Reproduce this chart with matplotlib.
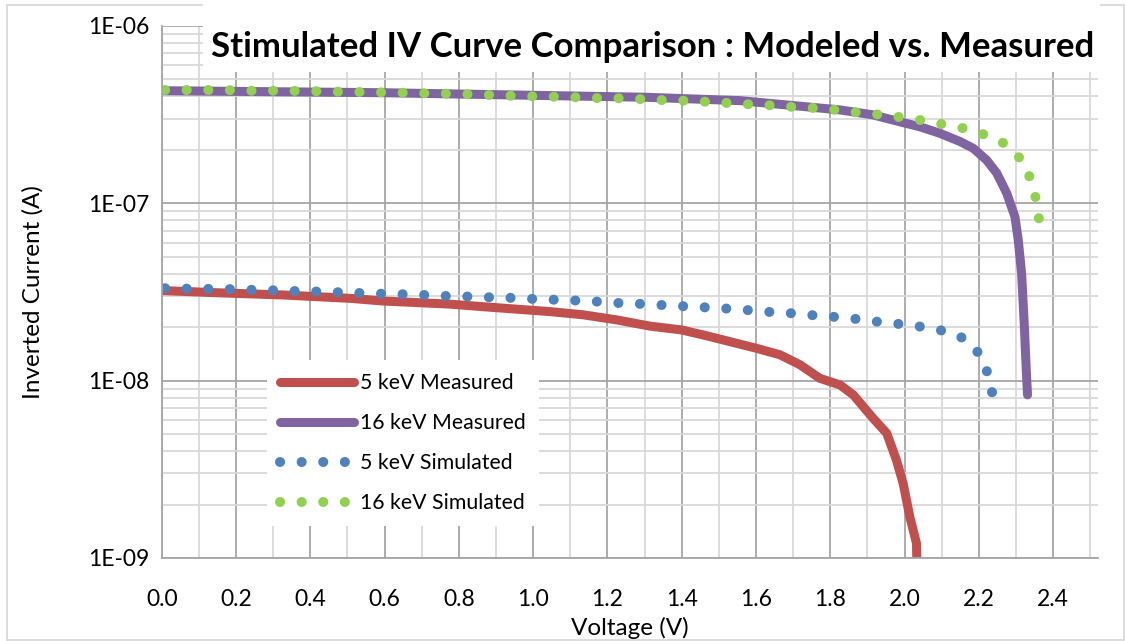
import numpy as np
import matplotlib.pyplot as plt
from matplotlib.ticker import MultipleLocator, LogLocator, FuncFormatter, NullFormatter
from matplotlib.patches import Rectangle

plt.rcParams['font.family'] = ['Lato', 'DejaVu Sans']

# 5 keV measured
v_5m = [0.000, 0.148, 0.327, 0.507, 0.597, 0.776, 0.866, 1.045, 1.135, 1.225, 1.314,
        1.400, 1.467, 1.602, 1.664, 1.718, 1.772, 1.826, 1.862, 1.915, 1.952, 1.978,
        1.996, 2.014, 2.032, 2.033]
i_5m = [3.22e-8, 3.13e-8, 3.04e-8, 2.91e-8, 2.81e-8, 2.70e-8, 2.61e-8, 2.45e-8, 2.35e-8,
        2.20e-8, 2.03e-8, 1.93e-8, 1.79e-8, 1.52e-8, 1.40e-8, 1.23e-8, 1.03e-8, 9.46e-9,
        8.31e-9, 6.14e-9, 5.05e-9, 3.57e-9, 2.64e-9, 1.71e-9, 1.21e-9, 9.5e-10]

# 16 keV measured
v_16m = [0.000, 0.597, 1.301, 1.557, 1.826, 1.915, 1.987, 2.041, 2.095, 2.149, 2.185,
         2.221, 2.248, 2.275, 2.297, 2.306, 2.315, 2.322, 2.328, 2.331]
i_16m = [4.31e-7, 4.20e-7, 3.96e-7, 3.79e-7, 3.36e-7, 3.15e-7, 2.88e-7, 2.70e-7, 2.48e-7,
         2.23e-7, 2.04e-7, 1.75e-7, 1.48e-7, 1.14e-7, 8.40e-8, 6.21e-8, 4.03e-8, 2.11e-8,
         1.10e-8, 8.31e-9]

# 5 keV simulated
v_5s = [0.009, 0.067, 0.125, 0.184, 0.241, 0.300, 0.357, 0.415, 0.474, 0.532, 0.590,
        0.648, 0.706, 0.764, 0.823, 0.880, 0.938, 0.997, 1.055, 1.113, 1.172, 1.229,
        1.287, 1.344, 1.402, 1.461, 1.519, 1.576, 1.635, 1.693, 1.750, 1.809, 1.867,
        1.925, 1.982, 2.040, 2.098, 2.152, 2.195, 2.221, 2.235, 2.243]
i_5s = [3.32e-8, 3.30e-8, 3.29e-8, 3.28e-8, 3.25e-8, 3.23e-8, 3.20e-8, 3.18e-8, 3.15e-8,
        3.12e-8, 3.09e-8, 3.07e-8, 3.04e-8, 3.00e-8, 2.98e-8, 2.95e-8, 2.93e-8, 2.89e-8,
        2.86e-8, 2.83e-8, 2.79e-8, 2.74e-8, 2.71e-8, 2.67e-8, 2.63e-8, 2.59e-8, 2.55e-8,
        2.50e-8, 2.44e-8, 2.40e-8, 2.34e-8, 2.29e-8, 2.23e-8, 2.15e-8, 2.09e-8, 2.02e-8,
        1.92e-8, 1.76e-8, 1.47e-8, 1.14e-8, 8.71e-9, 6.64e-9]

# 16 keV simulated
v_16s = [0.009, 0.067, 0.125, 0.184, 0.241, 0.300, 0.357, 0.415, 0.474, 0.532, 0.590,
         0.648, 0.706, 0.764, 0.823, 0.880, 0.938, 0.997, 1.055, 1.113, 1.172, 1.229,
         1.287, 1.345, 1.402, 1.461, 1.519, 1.576, 1.635, 1.693, 1.751, 1.809, 1.867,
         1.925, 1.982, 2.040, 2.098, 2.154, 2.210, 2.264, 2.307, 2.335, 2.352, 2.361, 2.370]
i_16s = [4.35e-7, 4.35e-7, 4.35e-7, 4.34e-7, 4.31e-7, 4.31e-7, 4.30e-7, 4.28e-7, 4.26e-7,
         4.24e-7, 4.22e-7, 4.20e-7, 4.17e-7, 4.15e-7, 4.12e-7, 4.08e-7, 4.04e-7, 4.01e-7,
         3.99e-7, 3.96e-7, 3.92e-7, 3.91e-7, 3.87e-7, 3.82e-7, 3.79e-7, 3.74e-7, 3.68e-7,
         3.62e-7, 3.57e-7, 3.50e-7, 3.45e-7, 3.37e-7, 3.26e-7, 3.17e-7, 3.07e-7, 2.95e-7,
         2.80e-7, 2.66e-7, 2.46e-7, 2.20e-7, 1.83e-7, 1.44e-7, 1.09e-7, 8.34e-8, 6.29e-8]

labels = ['5 keV Measured', '16 keV Measured', '5 keV Simulated', '16 keV Simulated']
colors = ['#C0504D', '#8064A2', '#4F81BD', '#92D050']

fig = plt.figure(figsize=(11.26, 6.41), dpi=100)
ax = fig.add_axes([0.1436, 0.1295, 0.8313, 0.8301])

ax.plot(v_5m, i_5m, color=colors[0], lw=6.5, solid_capstyle='round', label=labels[0])
ax.plot(v_16m, i_16m, color=colors[1], lw=6.5, solid_capstyle='round', label=labels[1])
ax.plot(v_5s, i_5s, color=colors[2], lw=7.2, linestyle=(0, (0.01, 2.15)),
        dash_capstyle='round', label=labels[2])
ax.plot(v_16s, i_16s, color=colors[3], lw=7.2, linestyle=(0, (0.01, 2.15)),
        dash_capstyle='round', label=labels[3])

ax.set_yscale('log')
ax.set_ylim(1e-9, 1e-6)
ax.set_xlim(0, 2.52)
ax.xaxis.set_major_locator(MultipleLocator(0.2))
ax.xaxis.set_minor_locator(MultipleLocator(0.1))
ax.xaxis.set_major_formatter(FuncFormatter(lambda v, p: f"{v:.1f}"))
ax.yaxis.set_major_locator(LogLocator(base=10, numticks=10))
ax.yaxis.set_minor_locator(LogLocator(base=10, subs=np.arange(2, 10), numticks=20))
ax.yaxis.set_minor_formatter(NullFormatter())
ax.yaxis.set_major_formatter(FuncFormatter(lambda v, p: f"{v:.0E}"))

ax.grid(which='major', color='#A6A6A6', lw=1.3)
ax.grid(which='minor', color='#D9D9D9', lw=1.3)
ax.set_axisbelow(True)
for s in ['top', 'right']:
    ax.spines[s].set_visible(False)
for s in ['left', 'bottom']:
    ax.spines[s].set_color('#A6A6A6')
    ax.spines[s].set_linewidth(1.3)
ax.tick_params(which='both', length=0, labelsize=16.5, colors='black')
ax.tick_params(axis='x', pad=22)
ax.tick_params(axis='y', pad=9)

ax.set_xlabel('Voltage (V)', fontsize=17.5, labelpad=5)
ax.set_ylabel('Inverted Current (A)', fontsize=17.5, labelpad=32)

leg = ax.legend(loc='upper left', bbox_to_anchor=(0.112, 0.372), borderaxespad=0,
                fontsize=15.3, frameon=True, framealpha=1, fancybox=False,
                handlelength=3.5, handletextpad=0.3, labelspacing=0.94, borderpad=0.62)
leg.get_frame().set_edgecolor('none')
leg.get_frame().set_facecolor('white')

# white box behind the title
fig.patches.append(Rectangle((203 / 1126, 1 - 72 / 641), (1100 - 203) / 1126, 72 / 641,
                             transform=fig.transFigure, facecolor='white',
                             edgecolor='none', zorder=1))
fig.text(0.58, 1 - 47 / 641, 'Stimulated IV Curve Comparison : Modeled vs. Measured',
         fontsize=25, fontweight='bold', ha='center', va='center', zorder=3)

# outer chart border
fig.patches.append(Rectangle((7 / 1126, 1 / 641), 1117 / 1126, 635 / 641,
                             transform=fig.transFigure, facecolor='none',
                             edgecolor='#D9D9D9', lw=1.3, zorder=0))

fig.savefig('out.png', dpi=100)
